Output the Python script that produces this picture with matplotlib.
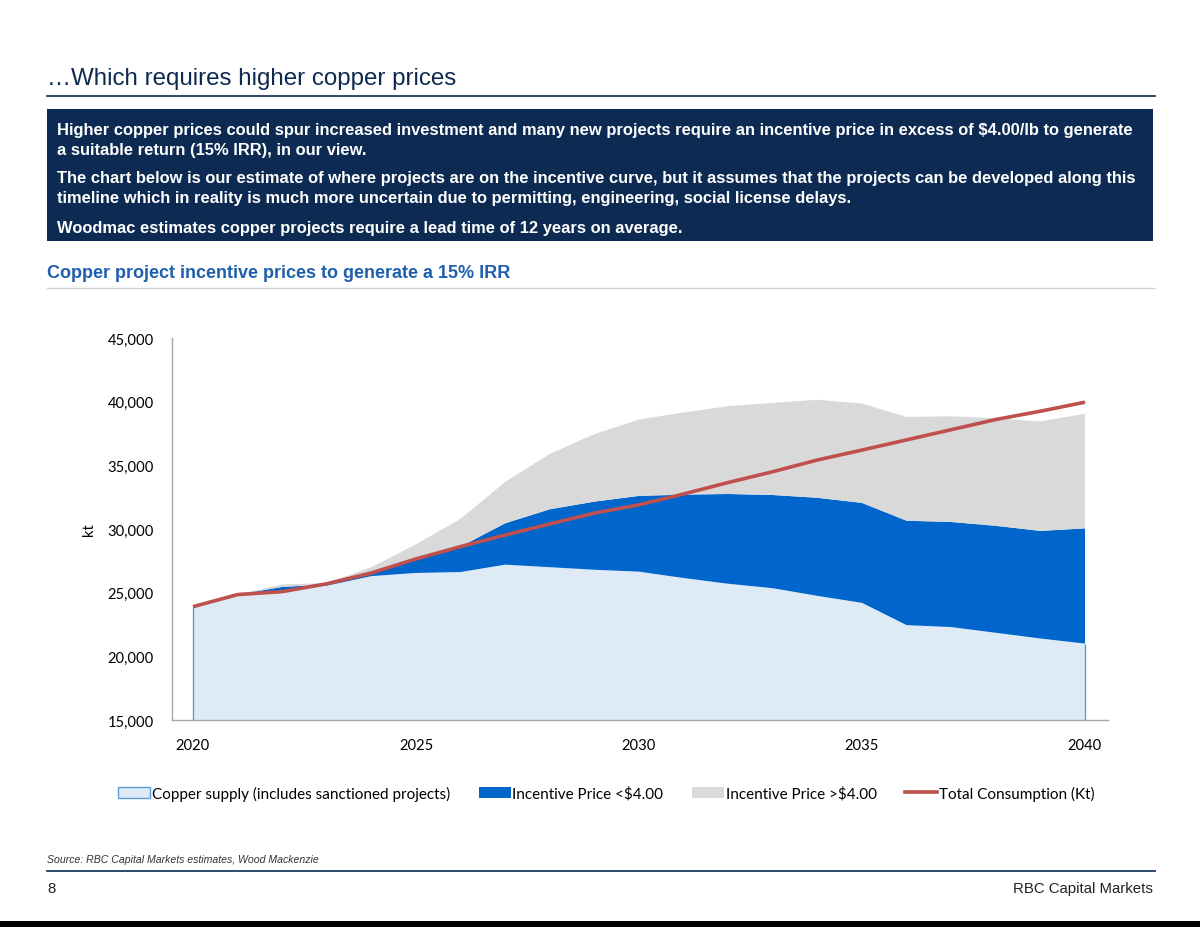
import matplotlib
matplotlib.use("Agg")
import matplotlib.pyplot as plt
from matplotlib.patches import Patch, Rectangle
from matplotlib.lines import Line2D
from matplotlib.ticker import FuncFormatter

# ---- data (kt) ----
years = list(range(2020, 2041))
supply = [23900, 24850, 25150, 25550, 26300, 26550, 26620, 27200, 27000, 26800, 26650,
          26150, 25700, 25350, 24750, 24200, 22450, 22300, 21850, 21400, 21000]
incentive_low = [0, 0, 300, 100, 150, 1100, 2000, 3250, 4550, 5350, 5950,
                 6550, 7050, 7320, 7700, 7850, 8200, 8250, 8400, 8450, 9050]
incentive_high = [0, 0, 200, 100, 550, 1150, 2180, 3250, 4350, 5300, 6000,
                  6450, 6900, 7230, 7700, 7800, 8150, 8300, 8450, 8600, 9000]
consumption = [23900, 24850, 25080, 25700, 26550, 27650, 28620, 29530, 30400, 31250, 31900,
               32750, 33650, 34500, 35420, 36200, 37000, 37800, 38600, 39250, 39960]
series_names = ["Copper supply (includes sanctioned projects)", "Incentive Price <$4.00",
                "Incentive Price >$4.00", "Total Consumption (Kt)"]
y_ticks = [15000, 20000, 25000, 30000, 35000, 40000, 45000]
x_ticks = [2020, 2025, 2030, 2035, 2040]

title = "\u2026Which requires higher copper prices"
box_lines = [
    "Higher copper prices could spur increased investment and many new projects require an incentive price in excess of $4.00/lb to generate",
    "a suitable return (15% IRR), in our view.",
    "The chart below is our estimate of where projects are on the incentive curve, but it assumes that the projects can be developed along this",
    "timeline which in reality is much more uncertain due to permitting, engineering, social license delays.",
    "Woodmac estimates copper projects require a lead time of 12 years on average.",
]
subtitle = "Copper project incentive prices to generate a 15% IRR"
source = "Source: RBC Capital Markets estimates, Wood Mackenzie"

# ---- styling ----
W, H = 1200, 928
NAVY = "#0c2a52"
C_SUPPLY = "#deebf7"
C_SUPPLY_EDGE = "#5b9bd5"
C_LOW = "#0066cc"
C_HIGH = "#d9d9d9"
C_RED = "#c0504d"
SANS = ["Liberation Sans", "DejaVu Sans"]
CHART = ["Lato", "DejaVu Sans"]

fig = plt.figure(figsize=(W / 100, H / 100), dpi=100)
fig.patch.set_facecolor("white")

def fx(px):
    return px / W

def fy(py):
    return 1 - py / H

# title and rule
fig.text(fx(47), fy(79), title, fontsize=17.4, color=NAVY, family=SANS, va="center", ha="left")
fig.add_artist(Line2D([fx(47), fx(1155)], [fy(97), fy(97)], color="#1f3b64", lw=1.3))

# dark box
fig.add_artist(Rectangle((fx(47), fy(242)), fx(1153) - fx(47), fy(110) - fy(242),
                         facecolor=NAVY, edgecolor="none", transform=fig.transFigure))
line_y = [131, 151, 179, 199, 228]
for txt, yy in zip(box_lines, line_y):
    fig.text(fx(57), fy(yy), txt, fontsize=11.9, color="white", weight="bold",
             family=SANS, va="center", ha="left")

# subtitle and rule
fig.text(fx(47), fy(274), subtitle, fontsize=13.0, color="#1e5fae", weight="bold",
         family=SANS, va="center", ha="left")
fig.add_artist(Line2D([fx(47), fx(1155)], [fy(289), fy(289)], color="#cfd6de", lw=1.0))

# ---- chart ----
ax = fig.add_axes([fx(172), fy(721), fx(1108) - fx(172), fy(339) - fy(721)])
ax.stackplot(years, supply, incentive_low, incentive_high,
             colors=[C_SUPPLY, C_LOW, C_HIGH], linewidth=0)
ax.vlines([years[0], years[-1]], y_ticks[0], [supply[0], supply[-1]],
          color=C_SUPPLY_EDGE, lw=1.0)
ax.plot(years, consumption, color=C_RED, lw=2.6, solid_capstyle="butt")

ax.set_ylim(y_ticks[0], y_ticks[-1])
ax.set_xlim(years[0] - 21 / 44.6, years[-1] + 23 / 44.6)
ax.set_yticks(y_ticks)
ax.set_xticks(x_ticks)
ax.yaxis.set_major_formatter(FuncFormatter(lambda v, p: f"{int(v):,}"))
ax.tick_params(length=0, labelsize=10.6, colors="black")
ax.tick_params(axis="y", pad=13)
ax.tick_params(axis="x", pad=13)
for lab in ax.get_xticklabels() + ax.get_yticklabels():
    lab.set_family(CHART)
for s in ["top", "right"]:
    ax.spines[s].set_visible(False)
for s in ["left", "bottom"]:
    ax.spines[s].set_color("#a6a6a6")
    ax.spines[s].set_linewidth(1.0)
ax.set_ylabel("kt", fontsize=10.6, family=CHART, labelpad=8)
ax.set_facecolor("white")

handles = [
    Patch(facecolor=C_SUPPLY, edgecolor=C_SUPPLY_EDGE, lw=1.0),
    Patch(facecolor=C_LOW, edgecolor="none"),
    Patch(facecolor=C_HIGH, edgecolor="none"),
    Line2D([], [], color=C_RED, lw=2.6),
]
leg = fig.legend(handles, series_names, loc="center left", bbox_to_anchor=(fx(112), fy(794)),
                 ncol=4, frameon=False, prop={"family": CHART, "size": 11.0},
                 handlelength=2.1, handleheight=0.7, handletextpad=0.12,
                 columnspacing=1.85, borderaxespad=0)

# footer
fig.text(fx(47), fy(860), source, fontsize=7.6, style="italic", color="#333333",
         family=SANS, va="center", ha="left")
fig.add_artist(Line2D([fx(47), fx(1155)], [fy(872), fy(872)], color="#1f3b64", lw=1.3))
fig.text(fx(47), fy(889), "8", fontsize=10.8, color="#222222", family=SANS, va="center", ha="left")
fig.text(fx(1153), fy(889), "RBC Capital Markets", fontsize=10.8, color="#222222", family=SANS,
         va="center", ha="right")
fig.add_artist(Rectangle((0, 0), 1, fy(922), facecolor="black", edgecolor="none",
                         transform=fig.transFigure))

fig.savefig("out.png", dpi=100, facecolor="white")
